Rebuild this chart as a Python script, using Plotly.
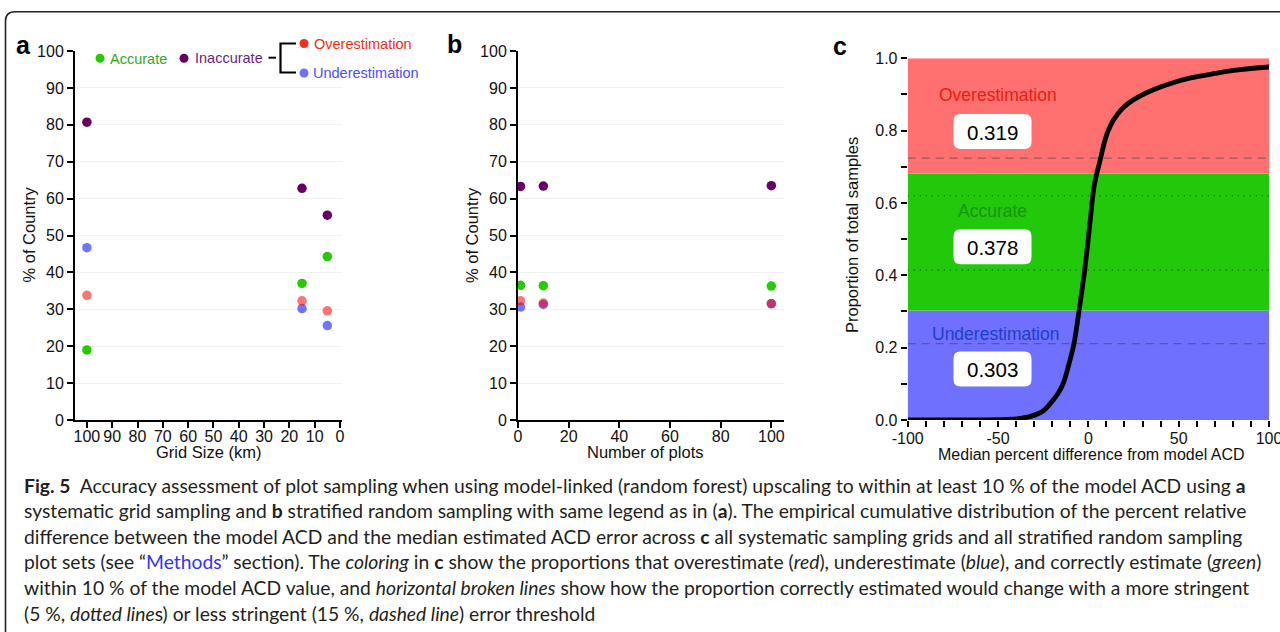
import plotly.graph_objects as go

W, H = 1280, 632

# ---------------- data ----------------
# Panel a: systematic grid sampling
grid_size = [100, 15, 5]
a_accurate = [19.0, 37.0, 44.3]
a_inaccurate = [80.7, 62.8, 55.5]
a_over = [33.8, 32.3, 29.6]
a_under = [46.7, 30.2, 25.6]

# Panel b: stratified random sampling
n_plots = [1, 10, 100]
b_accurate = [36.5, 36.4, 36.3]
b_inaccurate = [63.3, 63.4, 63.5]
b_over = [32.3, 31.7, 31.6]
b_under = [30.6, 31.3, 31.5]

# Panel c: empirical CDF
cdf_x = [-100, -80, -60, -50, -40, -32, -25, -21, -17, -14, -11, -8, -5.2, -3.5, -2,
         -0.5, 1, 2.4, 3.5, 4.6, 6.8, 9, 11, 14, 18, 22, 28, 37, 46, 56, 70, 83, 100]
cdf_y = [0.0, 0.0, 0.0, 0.001, 0.003, 0.01, 0.025, 0.046, 0.072, 0.10, 0.15, 0.21,
         0.30, 0.36, 0.415, 0.48, 0.55, 0.617, 0.655, 0.68, 0.724, 0.77, 0.80, 0.83,
         0.857, 0.875, 0.894, 0.915, 0.931, 0.945, 0.958, 0.968, 0.976]
prop_under = 0.303
prop_accurate = 0.378
prop_over = 0.319
dashed_y = [0.211, 0.724]   # 15 % threshold
dotted_y = [0.415, 0.620]   # 5 % threshold

# ---------------- styles ----------------
C_ACC = "#22cc00"
C_INACC = "#660066"
C_OVER = "rgba(255,0,0,0.55)"
C_UNDER = "rgba(0,0,255,0.55)"
FONT = "Liberation Sans, Arial, sans-serif"
CAP_FONT = "Lato, sans-serif"


def px(x):
    return x / W


def py(y):
    return 1 - y / H


fig = go.Figure()

# scatter panels
for xa, ya, xs, acc, inacc, over, under in [
    ("x", "y", grid_size, a_accurate, a_inaccurate, a_over, a_under),
    ("x2", "y2", n_plots, b_accurate, b_inaccurate, b_over, b_under),
]:
    for vals, col in [(under, C_UNDER), (over, C_OVER), (acc, C_ACC), (inacc, C_INACC)]:
        fig.add_trace(go.Scatter(x=xs, y=vals, mode="markers", xaxis=xa, yaxis=ya,
                                 marker=dict(size=9.5, color=col, line=dict(width=0)),
                                 showlegend=False, hoverinfo="x+y"))

# CDF curve
fig.add_trace(go.Scatter(x=cdf_x, y=cdf_y, mode="lines", xaxis="x3", yaxis="y3",
                         line=dict(color="black", width=4.8, shape="spline", smoothing=1.0),
                         showlegend=False))

shapes = []
# panel c coloured regions
b1 = prop_under
b2 = prop_under + prop_accurate
for y0, y1, col in [(0, b1, "#7070ff"), (b1, b2, "#22c80a"), (b2, 1.0, "#ff7070")]:
    shapes.append(dict(type="rect", xref="x3", yref="y3", x0=-100, x1=100, y0=y0, y1=y1,
                       fillcolor=col, line=dict(width=0), layer="below"))
for yv in dashed_y:
    shapes.append(dict(type="line", xref="x3", yref="y3", x0=-100, x1=100, y0=yv, y1=yv,
                       line=dict(color="rgba(70,70,70,0.55)", width=1.3, dash="8px,6px"),
                       layer="below"))
for yv in dotted_y:
    shapes.append(dict(type="line", xref="x3", yref="y3", x0=-100, x1=100, y0=yv, y1=yv,
                       line=dict(color="rgba(0,60,0,0.65)", width=1.5, dash="1px,5px"),
                       layer="below"))


def rounded_rect(cx, cy, w, h, r):
    x0, x1 = cx - w / 2, cx + w / 2
    y0, y1 = cy - h / 2, cy + h / 2
    pts = (f"M {px(x0 + r)},{py(y0)} L {px(x1 - r)},{py(y0)} "
           f"Q {px(x1)},{py(y0)} {px(x1)},{py(y0 + r)} L {px(x1)},{py(y1 - r)} "
           f"Q {px(x1)},{py(y1)} {px(x1 - r)},{py(y1)} L {px(x0 + r)},{py(y1)} "
           f"Q {px(x0)},{py(y1)} {px(x0)},{py(y1 - r)} L {px(x0)},{py(y0 + r)} "
           f"Q {px(x0)},{py(y0)} {px(x0 + r)},{py(y0)} Z")
    return dict(type="path", xref="paper", yref="paper", path=pts,
                fillcolor="white", line=dict(width=0), layer="above")


box_cy = [131.5, 246.7, 369.0]
for cy in box_cy:
    shapes.append(rounded_rect(992.5, cy, 78, 35, 7))

# figure border with rounded top-left corner
shapes.append(dict(type="path", xref="paper", yref="paper",
                   path=f"M {px(5.5)},{py(640)} L {px(5.5)},{py(21)} Q {px(5.5)},{py(11.7)} {px(15)},{py(11.7)} L {px(1285)},{py(11.7)}",
                   line=dict(color="#222", width=1.6)))

# legend of panel a: dots
for cx, cy, col in [(100, 58.3, C_ACC), (184, 58.3, C_INACC), (304, 43.5, "#ff2a1a"), (304, 73.0, "#7070ff")]:
    r = 4.5
    shapes.append(dict(type="circle", xref="paper", yref="paper",
                       x0=px(cx - r), x1=px(cx + r), y0=py(cy + r), y1=py(cy - r),
                       fillcolor=col, line=dict(width=0)))
# bracket
shapes.append(dict(type="line", xref="paper", yref="paper", x0=px(268.5), x1=px(276), y0=py(57.7), y1=py(57.7),
                   line=dict(color="black", width=2)))
shapes.append(dict(type="path", xref="paper", yref="paper",
                   path=f"M {px(296)},{py(43.5)} L {px(280.5)},{py(43.5)} L {px(280.5)},{py(72.5)} L {px(296)},{py(72.5)}",
                   line=dict(color="black", width=2.2)))

annotations = []


def ann(text, x, y, size, color="#111", xanchor="center", yanchor="middle", family=FONT, textangle=0, **kw):
    annotations.append(dict(text=text, x=px(x), y=py(y), xref="paper", yref="paper",
                            xanchor=xanchor, yanchor=yanchor, showarrow=False,
                            font=dict(size=size, color=color, family=family),
                            textangle=textangle, **kw))


# panel letters
ann("<b>a</b>", 23, 45, 25, "black")
ann("<b>b</b>", 454, 44, 25, "black")
ann("<b>c</b>", 840, 46, 25, "black")

# legend text (panel a)
ann("Accurate", 108, 59, 14.5, "#33a822", xanchor="left")
ann("Inaccurate", 193, 58, 14.5, "#6b1f7b", xanchor="left")
ann("Overestimation", 312, 44, 14.5, "#f03010", xanchor="left")
ann("Underestimation", 311, 72.5, 14.5, "#4d4dff", xanchor="left")

# axis titles
ann("Grid Size (km)", 208, 452, 16.5)
ann("Number of plots", 645, 452, 16.5)
ann("Median percent difference from model ACD", 1091, 454, 16)
ann("% of Country", 28.5, 235, 16.5, textangle=-90)
ann("% of Country", 472, 235, 16.5, textangle=-90)
ann("Proportion of total samples", 852, 235, 16.5, textangle=-90)

# panel c labels
ann("Overestimation", 998, 95, 17.5, "#e8200c")
ann("Accurate", 992.5, 211, 17.5, "#1d9112")
ann("Underestimation", 995.5, 334, 17.5, "#1f3fbf")
for cy, v in zip(box_cy, [prop_over, prop_accurate, prop_under]):
    ann(f"{v:.3f}", 992.5, cy + 0.5, 20.5, "black")

# caption
cap_lines = [
    "<b>Fig.\u00a05</b>\u00a0\u00a0Accuracy assessment of plot sampling when using model-linked (random forest) upscaling to within at least 10\u00a0% of the model ACD using <b>a</b>",
    "systematic grid sampling and <b>b</b> stratified random sampling with same legend as in (<b>a</b>). The empirical cumulative distribution of the percent relative",
    "difference between the model ACD and the median estimated ACD error across <b>c</b> all systematic sampling grids and all stratified random sampling",
    "plot sets (see \u201c<span style='color:#3333ee'>Methods</span>\u201d section). The <i>coloring</i> in <b>c</b> show the proportions that overestimate (<i>red</i>), underestimate (<i>blue</i>), and correctly estimate (<i>green</i>)",
    "within 10\u00a0% of the model ACD value, and <i>horizontal broken lines</i> show how the proportion correctly estimated would change with a more stringent",
    "(5\u00a0%, <i>dotted line</i>s) or less stringent (15\u00a0%, <i>dashed line</i>) error threshold",
]
cap_y = [485, 510.5, 536, 561.7, 587, 613]
for t, yv in zip(cap_lines, cap_y):
    ann(t, 21.5, yv, 19.3, "#231f20", xanchor="left", family=CAP_FONT)

axis_common = dict(showline=True, linewidth=2, linecolor="black", ticks="outside", ticklen=6,
                   tickwidth=2, tickcolor="black", zeroline=False, automargin=False,
                   tickfont=dict(size=16, color="#111", family=FONT))

fig.update_layout(
    template="none",
    width=W, height=H, margin=dict(l=0, r=0, t=0, b=0, pad=0, autoexpand=False),
    paper_bgcolor="white", plot_bgcolor="white", showlegend=False,
    xaxis=dict(domain=[px(75), px(342)], range=[104.7, -0.8], anchor="y",
               tickvals=list(range(0, 101, 10)), showgrid=False, ticklabelstandoff=-5, **axis_common),
    yaxis=dict(domain=[py(420), py(51)], range=[0, 100], anchor="x",
               tickvals=list(range(0, 101, 10)), showgrid=True, gridcolor="#f1f1f1", gridwidth=1,
               **axis_common),
    xaxis2=dict(domain=[px(518), px(784)], range=[0, 105], anchor="y2",
                tickvals=list(range(0, 101, 20)), showgrid=False, ticklabelstandoff=-5, **axis_common),
    yaxis2=dict(domain=[py(420), py(51)], range=[0, 100], anchor="x2",
                tickvals=list(range(0, 101, 10)), showgrid=True, gridcolor="#f1f1f1", gridwidth=1,
                **axis_common),
    xaxis3=dict(domain=[px(907.7), px(1269)], range=[-100, 100], anchor="y3",
                tickvals=[-100, -50, 0, 50, 100], ticktext=["-100", "-50", "0", "50", "100"],
                ticks="outside", ticklen=6, tickwidth=1.5, tickcolor="black",
                minor=dict(dtick=10, tick0=0, ticks="outside", ticklen=6, tickwidth=1.5, tickcolor="black"),
                showline=False, showgrid=False, zeroline=False, automargin=False, ticklabelstandoff=-2,
                ticklabeloverflow="allow",
                tickfont=dict(size=16, color="#111", family=FONT)),
    yaxis3=dict(domain=[py(420), py(58.3)], range=[0, 1], anchor="x3",
                tickvals=[0, 0.2, 0.4, 0.6, 0.8, 1.0], tickformat=".1f",
                ticks="outside", ticklen=6, tickwidth=1.5, tickcolor="black",
                minor=dict(dtick=0.1, tick0=0, ticks="outside", ticklen=6, tickwidth=1.5, tickcolor="black"),
                showline=False, showgrid=False, zeroline=False, automargin=False,
                tickfont=dict(size=16, color="#111", family=FONT)),
    shapes=shapes,
    annotations=annotations,
)

fig.write_html("out.html", config={"displayModeBar": False},
               post_script="document.body.style.margin='0';document.body.style.overflow='hidden';")
